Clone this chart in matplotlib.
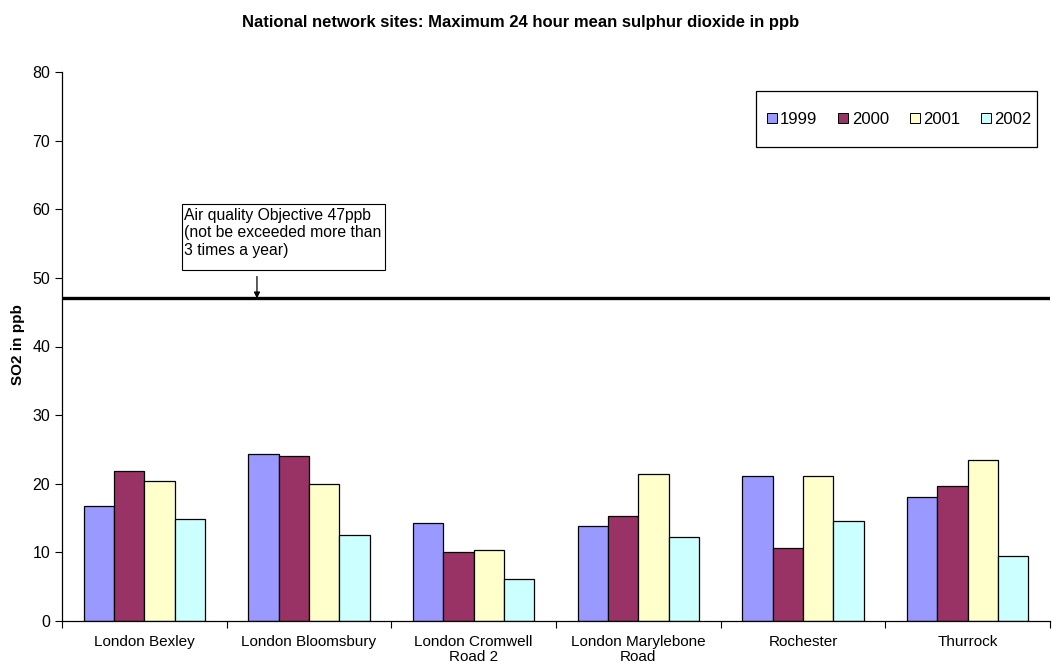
import numpy as np
import matplotlib
matplotlib.use("Agg")
import matplotlib.pyplot as plt
from matplotlib.patches import Rectangle
from matplotlib.lines import Line2D

plt.rcParams['font.family'] = ['Liberation Sans', 'DejaVu Sans']

# Sites and annual maxima of 24-hour mean SO2 (ppb)
sites = ["London Bexley", "London Bloomsbury", "London Cromwell\nRoad 2",
         "London Marylebone\nRoad", "Rochester", "Thurrock"]
years = ["1999", "2000", "2001", "2002"]
so2_1999 = [16.7, 24.3, 14.3, 13.9, 21.2, 18.1]
so2_2000 = [21.8, 24.0, 10.1, 15.3, 10.7, 19.7]
so2_2001 = [20.4, 20.0, 10.3, 21.4, 21.2, 23.5]
so2_2002 = [14.9, 12.5, 6.1, 12.3, 14.6, 9.5]
objective = 47
yticks = [0, 10, 20, 30, 40, 50, 60, 70, 80]

series = [so2_1999, so2_2000, so2_2001, so2_2002]
colors = ["#9999FF", "#993366", "#FFFFCC", "#CCFFFF"]

fig = plt.figure(figsize=(10.52, 6.67), dpi=100)
ax = fig.add_axes([62 / 1052, 46 / 667, 988 / 1052, 549 / 667])

x = np.arange(len(sites))
bw = 0.184
for i, (vals, col) in enumerate(zip(series, colors)):
    ax.bar(x + (i - 1.5) * bw, vals, width=bw, color=col,
           edgecolor="black", linewidth=0.9, zorder=2)

ax.set_xlim(-0.5, len(sites) - 0.5)
ax.set_ylim(0, 80)
ax.set_yticks(yticks)
ax.tick_params(axis="y", labelsize=11.5, direction="out", length=5, width=0.8)

# Category separators as ticks, labels centred on each group
ax.set_xticks(np.arange(len(sites) + 1) - 0.5)
ax.set_xticklabels([])
ax.set_xticks(x, minor=True)
ax.set_xticklabels(sites, minor=True, fontsize=11, linespacing=1.1)
ax.tick_params(axis="x", which="major", direction="out", length=5, width=0.8)
ax.tick_params(axis="x", which="minor", length=0, pad=10)

for s in ["top", "right"]:
    ax.spines[s].set_visible(False)
for s in ["left", "bottom"]:
    ax.spines[s].set_linewidth(0.9)

# Air quality objective line with note
ax.axhline(objective, color="black", linewidth=2.4, zorder=3)
ax.add_patch(Rectangle((0.227, 51.2), 1.236, 9.5, facecolor="white",
                       edgecolor="black", linewidth=0.8, zorder=4))
ax.text(0.240, 60.2, "Air quality Objective 47ppb\n(not be exceeded more than\n3 times a year)",
        fontsize=11.3, va="top", ha="left", linespacing=1.2, zorder=5)
ax.annotate("", xy=(0.684, objective), xytext=(0.684, 50.2),
            arrowprops=dict(arrowstyle="-|>", color="black", lw=0.9,
                            mutation_scale=9, shrinkA=0, shrinkB=0), zorder=5)

# Legend
ax.add_patch(Rectangle((0.702, 0.864), 0.2845, 0.102, transform=ax.transAxes,
                       facecolor="white", edgecolor="black", linewidth=0.9, zorder=4))
handles = [Line2D([], [], linestyle="none", marker="s", markersize=7.5,
                  markerfacecolor=c, markeredgecolor="black", markeredgewidth=0.7)
           for c in colors]
leg = ax.legend(handles, years, loc="center", bbox_to_anchor=(0.847, 0.914),
                ncol=4, frameon=False, fontsize=12, handlelength=0.7,
                handletextpad=0.15, columnspacing=1.2, borderaxespad=0)
leg.set_zorder(5)

fig.text(521 / 1052, 1 - 22 / 667,
         "National network sites: Maximum 24 hour mean sulphur dioxide in ppb",
         ha="center", va="center", fontsize=12, fontweight="bold")
fig.text(18 / 1052, 1 - 345 / 667, "SO2 in ppb", rotation=90,
         ha="center", va="center", fontsize=11, fontweight="bold")

fig.savefig("out.png", dpi=100, facecolor="white")
